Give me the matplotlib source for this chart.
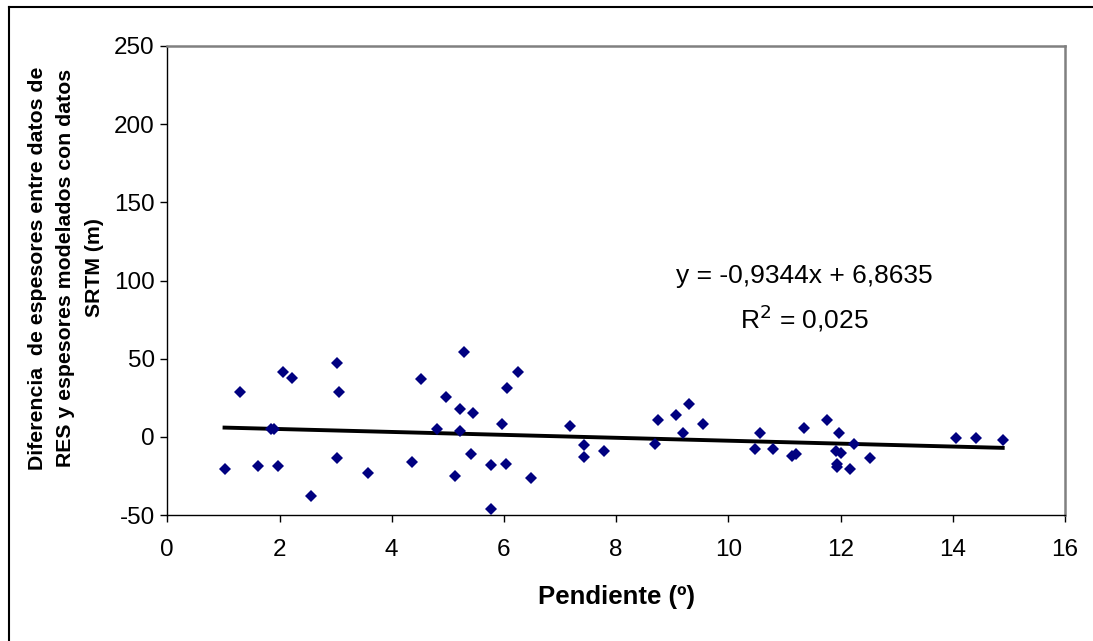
import matplotlib
matplotlib.use("Agg")
import matplotlib.pyplot as plt
from matplotlib.lines import Line2D

plt.rcParams['font.family'] = ['Liberation Sans', 'DejaVu Sans']
plt.rcParams['axes.unicode_minus'] = False

pendiente = [1.02, 1.30, 1.61, 1.85, 1.91, 1.97, 2.07, 2.23, 2.56, 3.03, 3.06, 3.03,
             3.57, 4.37, 4.53, 4.81, 4.97, 5.29, 5.21, 5.45, 5.21, 5.42, 5.13,
             5.77, 5.77, 5.97, 6.06, 6.25, 6.03, 6.48, 7.18, 7.43, 7.43, 7.79,
             8.69, 8.75, 9.07, 9.29, 9.20, 9.55, 10.47, 10.57, 10.79,
             11.14, 11.21, 11.34, 11.75, 11.97, 11.92, 12.00, 11.94, 11.94,
             12.16, 12.24, 12.53, 14.06, 14.41, 14.89]
diferencia = [-20.7, 28.8, -18.4, 4.9, 4.9, -18.4, 41.5, 37.8, -37.8, 47.2, 28.8, -13.7,
              -23.0, -16.0, 36.8, 4.9, 25.4, 54.0, 17.5, 15.2, 3.8, -11.3, -25.0,
              -18.1, -45.9, 8.1, 31.2, 41.5, -17.1, -26.3, 7.1, -5.5, -12.8, -9.2,
              -4.5, 10.5, 13.9, 21.0, 2.6, 8.1, -7.9, 2.6, -7.9,
              -12.4, -10.7, 5.8, 10.5, 2.6, -9.0, -10.3, -17.1, -19.2,
              -20.7, -4.3, -13.7, -1.0, -1.0, -2.1]
pendiente_ticks = [0, 2, 4, 6, 8, 10, 12, 14, 16]
diferencia_ticks = [-50, 0, 50, 100, 150, 200, 250]
pendiente_tendencia = 0.9344 * -1
ordenada_tendencia = 6.8635

fig = plt.figure(figsize=(10.93, 6.41), dpi=100)
ax = fig.add_axes([167.3/1093, 1 - 515/641, (1065 - 167.3)/1093, (515 - 46)/641])

ax.plot(pendiente, diferencia, linestyle='none', marker='D', markersize=6.6,
        color='#000080', markeredgewidth=0, zorder=3)
xmin, xmax = min(pendiente), max(pendiente)
ax.plot([xmin, xmax],
        [pendiente_tendencia * xmin + ordenada_tendencia,
         pendiente_tendencia * xmax + ordenada_tendencia],
        color='black', linewidth=2.8, zorder=2)

ax.set_xlim(0, 16)
ax.set_ylim(-50, 250)
ax.set_xticks(pendiente_ticks)
ax.set_yticks(diferencia_ticks)
ax.tick_params(axis='both', direction='out', length=5, width=1, labelsize=17.5,
               colors='black', pad=4)
ax.tick_params(axis='x', pad=12)

for side in ('left', 'bottom'):
    ax.spines[side].set_color('black')
    ax.spines[side].set_linewidth(1.0)
for side in ('top', 'right'):
    ax.spines[side].set_color('#808080')
    ax.spines[side].set_linewidth(1.8)

fig.text(804/1093, 1 - 299/641, 'y = -0,9344x + 6,8635\nR$^2$ = 0,025',
         ha='center', va='center', fontsize=19, linespacing=1.55,
         multialignment='center')

fig.text(616/1093, 1 - 597/641, 'Pendiente (º)', ha='center', va='center',
         fontsize=18.5, fontweight='bold')
fig.text(66/1093, 1 - 268/641,
         'Diferencia  de espesores entre datos de\nRES y espesores modelados con datos\nSRTM (m)',
         ha='center', va='center', rotation=90, fontsize=15.3, fontweight='bold',
         multialignment='center', linespacing=1.6)

fig.add_artist(Line2D([9/1093, 1.0], [1 - 6.5/641, 1 - 6.5/641], color='black',
                      linewidth=1.5, transform=fig.transFigure))
fig.add_artist(Line2D([9/1093, 9/1093], [0.0, 1 - 6.5/641], color='black',
                      linewidth=1.5, transform=fig.transFigure))

fig.savefig('out.png', dpi=100)
